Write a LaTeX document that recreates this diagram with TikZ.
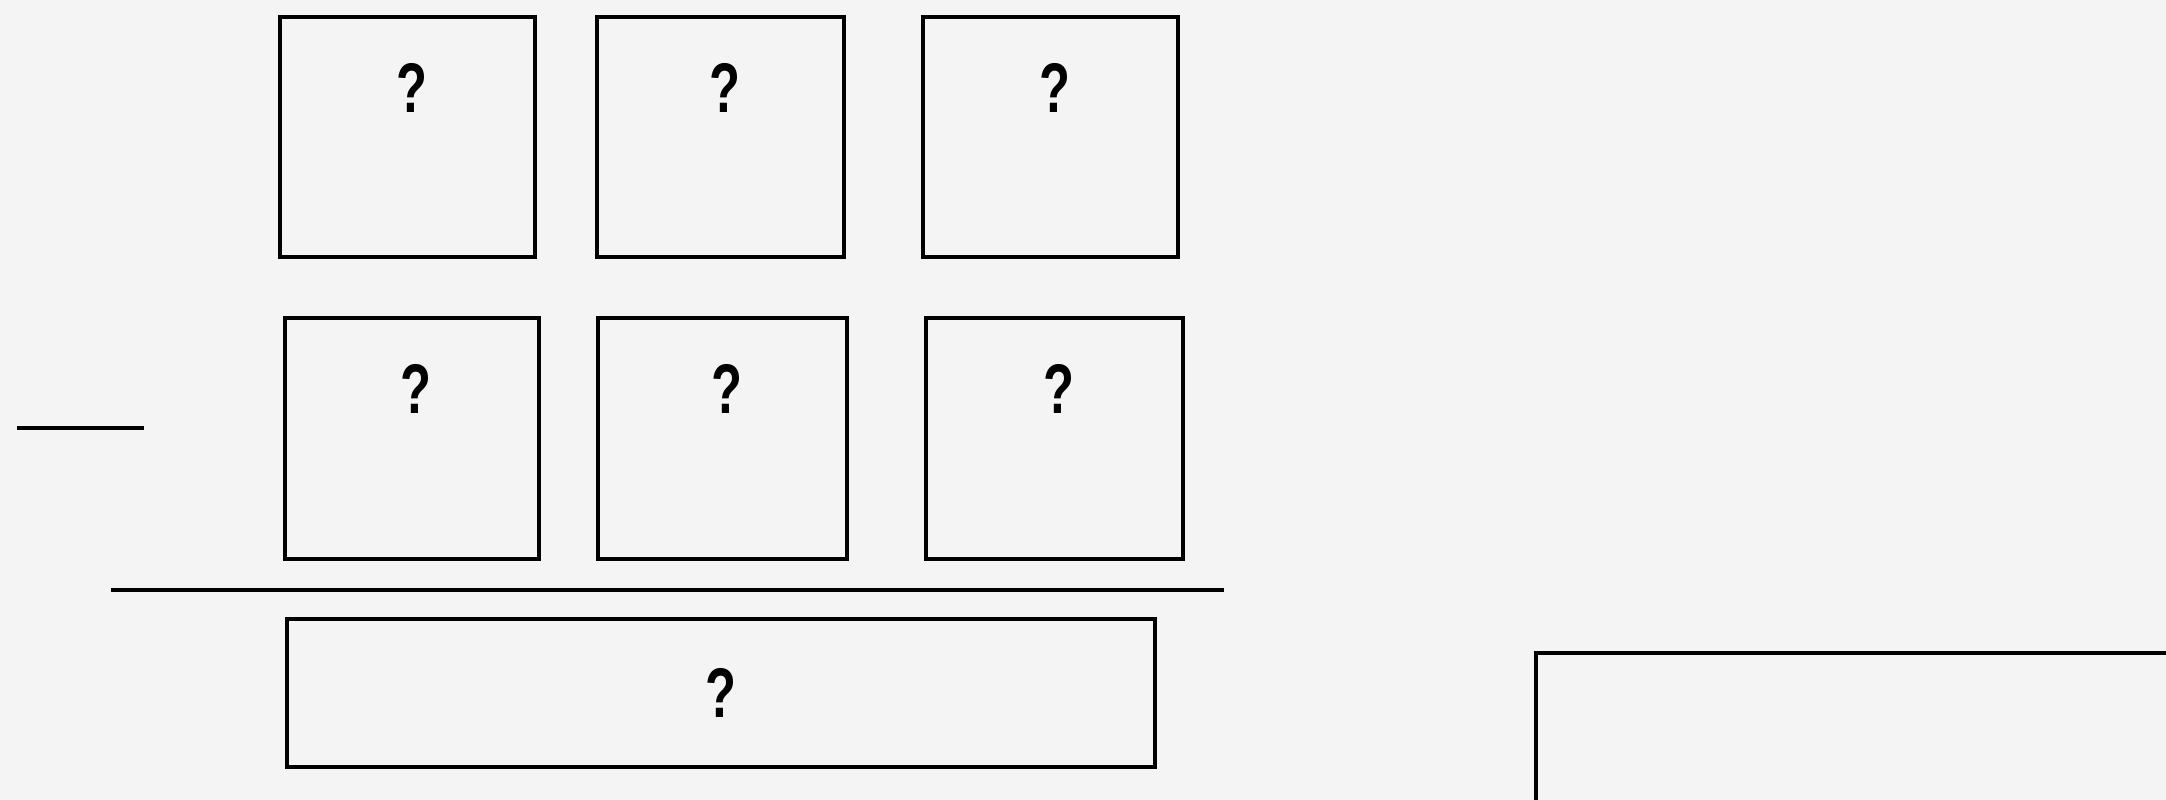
\documentclass[tikz,border=0pt]{standalone}
\usepackage{fontspec}
\setmainfont{Liberation Sans}
\usetikzlibrary{positioning}
\definecolor{paper}{HTML}{F4F4F4}
\tikzset{
  card/.style={draw,line width=1.3pt,inner sep=0pt},
  qmark/.style={inner sep=0pt,xscale=0.72,font=\fontsize{20}{24}\selectfont\bfseries}
}
\begin{document}
\begin{tikzpicture}[x=1cm,y=1cm]
\fill[paper] (0,0) rectangle (21.66,8);
\useasboundingbox (0,0) rectangle (21.66,8);
% upper row
\node[card,minimum width=2.55cm,minimum height=2.40cm] (b11) at (4.075,6.63) {};
\node[card,minimum width=2.47cm,minimum height=2.40cm] (b12) at (7.205,6.63) {};
\node[card,minimum width=2.55cm,minimum height=2.40cm] (b13) at (10.505,6.63) {};
% lower row
\node[card,minimum width=2.54cm,minimum height=2.41cm] (b21) at (4.12,3.615) {};
\node[card,minimum width=2.49cm,minimum height=2.41cm] (b22) at (7.225,3.615) {};
\node[card,minimum width=2.57cm,minimum height=2.41cm] (b23) at (10.545,3.615) {};
\foreach \b in {b11,b12,b13,b21,b22,b23}
  \node[qmark,below right=0.48cm and 0.04cm of \b.north,anchor=north] (q\b) {?};
% result
\node[card,minimum width=8.68cm,minimum height=1.48cm] (res) at (7.21,1.07) {};
\node[qmark] (qres) at (res.center) {?};
\coordinate (rule l) at (1.11,2.10);
\coordinate (rule r) at (12.24,2.10);
\draw[line width=1pt] (rule l) -- (rule r);
\coordinate (minus l) at (0.17,3.72);
\coordinate (minus r) at (1.44,3.72);
\draw[line width=1.1pt] (minus l) -- (minus r);
% answer box, cut by the page edge
\draw[line width=1.3pt] (21.9,1.47) -- (15.36,1.47) -- (15.36,-0.3);
\end{tikzpicture}
\end{document}
